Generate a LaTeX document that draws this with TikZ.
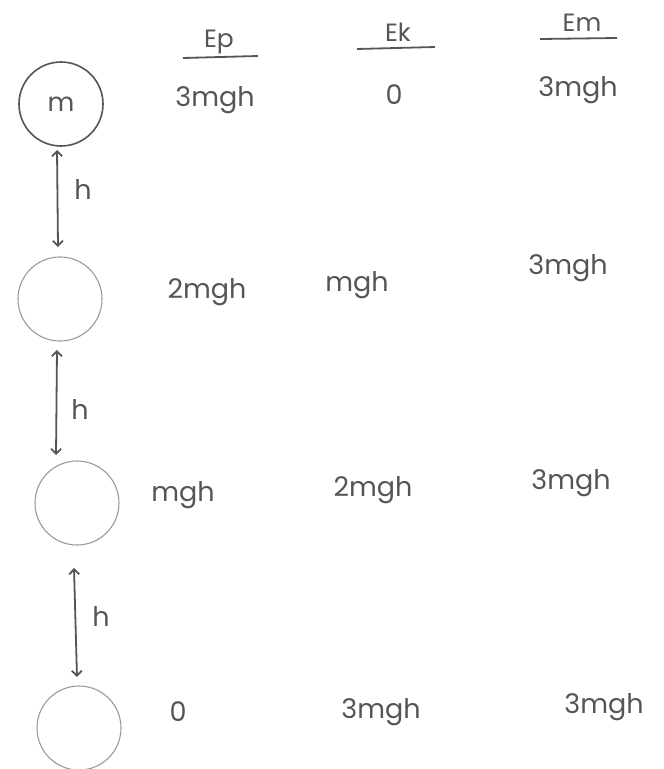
\documentclass[tikz,border=0pt]{standalone}
\usepackage{fontspec}
\setmainfont{Poppins}
\usetikzlibrary{arrows.meta,calc}
\definecolor{ink}{HTML}{555555}
\definecolor{light}{HTML}{9A9A9A}
\tikzset{
  lbl/.style={font=\fontsize{27}{31}\selectfont, text=ink, inner sep=0pt},
  hdr/.style={lbl, font=\fontsize{25}{29}\selectfont},
  ball/.style={circle, draw=ink, line width=1.6pt, minimum size=84pt, inner sep=0pt},
  ghost/.style={circle, draw=light, line width=1.1pt, minimum size=84pt, inner sep=0pt},
  arr/.style={{Straight Barb[length=5pt,width=10pt]}-{Straight Barb[length=5pt,width=10pt]}, draw=ink, line width=1.8pt},
  uline/.style={draw=ink, line width=1.8pt}
}
\begin{document}
\begin{tikzpicture}[x=1pt,y=-1pt]
\useasboundingbox (0,0) rectangle (664,769);
% balls
\node[ball]  (c1) at (61,104) {\fontsize{26}{30}\selectfont\color{ink} m};
\node[ghost] (c2) at (60,299) {};
\node[ghost] (c3) at (77,503) {};
\node[ghost] (c4) at (79,728) {};
% height arrows
\coordinate (a1s) at (57,150); \coordinate (a1e) at (58,247);
\coordinate (a2s) at (57,350); \coordinate (a2e) at (56,455);
\coordinate (a3s) at (74,568); \coordinate (a3e) at (77,677);
\draw[arr] (a1s) -- (a1e);
\draw[arr] (a2s) -- (a2e);
\draw[arr] (a3s) -- (a3e);
\node[lbl] (h1) at (83,190) {h};
\node[lbl] (h2) at (80,410) {h};
\node[lbl] (h3) at (101,617) {h};
% headers
\node[hdr] (ep) at (219,42) {Ep};
\node[hdr] (ek) at (398,32) {Ek};
\node[hdr] (em) at (582,23) {Em};
\draw[uline] (183,58) -- (258,56);
\draw[uline] (357,49) -- (435,47);
\draw[uline] (540,39) -- (617,38);
% row 1
\node[lbl] (r1a) at (215,100) {3mgh};
\node[lbl] (r1b) at (394,95) {0};
\node[lbl] (r1c) at (578,90) {3mgh};
% row 2
\node[lbl] (r2a) at (207,292) {2mgh};
\node[lbl] (r2b) at (357,285) {mgh};
\node[lbl] (r2c) at (568,268) {3mgh};
% row 3
\node[lbl] (r3a) at (183,495) {mgh};
\node[lbl] (r3b) at (373,490) {2mgh};
\node[lbl] (r3c) at (571,483) {3mgh};
% row 4
\node[lbl] (r4a) at (178,712) {0};
\node[lbl] (r4b) at (381,712) {3mgh};
\node[lbl] (r4c) at (604,707) {3mgh};
\end{tikzpicture}
\end{document}
